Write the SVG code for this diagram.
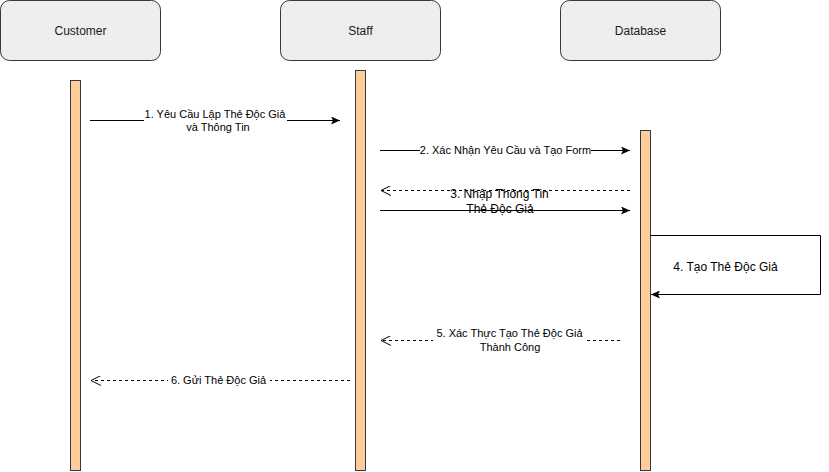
<svg xmlns="http://www.w3.org/2000/svg" width="829" height="472" viewBox="0 0 829 472">
  <style>
    .actor { fill: #eeeeee; stroke: #36393d; stroke-width: 1; }
    .bar { fill: #ffcd99; stroke: #36393d; stroke-width: 1; }
    .hdr { font-family: "Liberation Sans", Arial, sans-serif; font-size: 12px; fill: #1a1a1a; text-anchor: middle; }
    .lbl { font-family: "Liberation Sans", Arial, sans-serif; font-size: 11px; fill: #000; text-anchor: middle; }
    .big { font-size: 12px; }
    .msg { fill: none; stroke: #000; stroke-width: 1; }
    .ret { fill: none; stroke: #000; stroke-width: 1; stroke-dasharray: 3 3; }
    .bg { fill: #ffffff; }
  </style>
  <defs>
    <marker id="solid" markerWidth="10" markerHeight="8" refX="9" refY="4" orient="auto" markerUnits="userSpaceOnUse">
      <path d="M0,0 L9,4 L0,8 L2,4 Z" fill="#000"/>
    </marker>
    <marker id="open" markerWidth="12" markerHeight="10" refX="11" refY="5" orient="auto" markerUnits="userSpaceOnUse">
      <path d="M1,0 L11,5 L1,10" fill="none" stroke="#000" stroke-width="1"/>
    </marker>
  </defs>

  <g id="customer">
    <rect class="actor" x="0.5" y="0.5" width="160" height="60" rx="9"/>
    <text class="hdr" x="80.5" y="35">Customer</text>
    <rect class="bar" x="70.5" y="80.5" width="10" height="390"/>
  </g>
  <g id="staff">
    <rect class="actor" x="280.5" y="0.5" width="160" height="60" rx="9"/>
    <text class="hdr" x="360.5" y="35">Staff</text>
    <rect class="bar" x="355.5" y="70.5" width="10" height="400"/>
  </g>
  <g id="database">
    <rect class="actor" x="560.5" y="0.5" width="160" height="60" rx="9"/>
    <text class="hdr" x="640.5" y="35">Database</text>
    <rect class="bar" x="640.5" y="130.5" width="10" height="340"/>
  </g>

  <g id="connectors">
    <!-- 1: request -->
    <path class="msg" d="M90,120.5 H340" marker-end="url(#solid)"/>
    <rect class="bg" x="144" y="107" width="143" height="27"/>
    <text class="lbl" x="215" y="118">1. Yêu Cầu Lập Thẻ Độc Giả</text>
    <text class="lbl" x="218" y="131">và Thông Tin</text>
    <!-- 2: confirm and create form -->
    <path class="msg" d="M380,150.5 H630" marker-end="url(#solid)"/>
    <rect class="bg" x="420" y="144" width="171" height="13"/>
    <text class="lbl" x="505.5" y="154">2. Xác Nhận Yêu Cầu và Tạo Form</text>
    <!-- form returned -->
    <path class="ret" d="M630,190.5 H381" marker-end="url(#open)"/>
    <!-- 3: enter reader card info -->
    <path class="msg" d="M380,210.5 H630" marker-end="url(#solid)"/>
    <text class="lbl big" x="499.5" y="198">3. Nhập Thông Tin</text>
    <text class="lbl big" x="500" y="213">Thẻ Độc Giả</text>
    <!-- 4: self call -->
    <path class="msg" d="M650,235.5 H820.5 V294.5 H651" marker-end="url(#solid)"/>
    <text class="lbl big" x="725.5" y="271">4. Tạo Thẻ Độc Giả</text>
    <!-- 5: confirmation -->
    <path class="ret" d="M620,340.5 H381" marker-end="url(#open)"/>
    <rect class="bg" x="433" y="326" width="154" height="27"/>
    <text class="lbl" x="509.5" y="337">5. Xác Thực Tạo Thẻ Độc Giả</text>
    <text class="lbl" x="510" y="351">Thành Công</text>
    <!-- 6: send card -->
    <path class="ret" d="M350,380.5 H91" marker-end="url(#open)"/>
    <rect class="bg" x="168" y="373" width="102" height="13"/>
    <text class="lbl" x="218.5" y="384">6. Gửi Thẻ Độc Giả</text>
  </g>
</svg>
